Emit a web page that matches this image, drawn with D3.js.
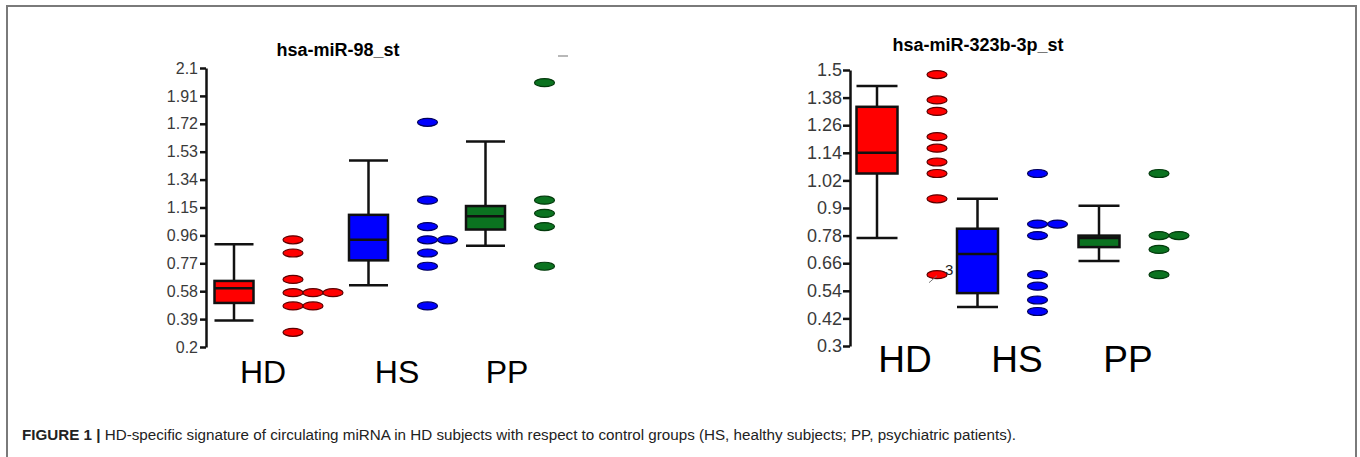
<!DOCTYPE html>
<meta charset="utf-8">
<script src="https://d3js.org/d3.v7.min.js"></script>
<style>
  body { margin: 0; background: #fff; }
  text { font-family: "Liberation Sans", Arial, sans-serif; }
</style>
<div id="my_dataviz"></div>
<script>

// groups
var groups = ["HD", "HS", "PP"];

// hsa-miR-98_st : box stats per group (HD, HS, PP)
var mir98Low = [0.38, 0.62, 0.89];
var mir98Q1 = [0.50, 0.79, 1.00];
var mir98Med = [0.60, 0.93, 1.09];
var mir98Q3 = [0.65, 1.10, 1.16];
var mir98High = [0.90, 1.47, 1.60];
// single subjects
var mir98HD = [0.93, 0.84, 0.66, 0.57, 0.57, 0.57, 0.48, 0.48, 0.30];
var mir98HS = [1.73, 1.20, 1.02, 0.93, 0.93, 0.84, 0.75, 0.48];
var mir98PP = [2.00, 1.20, 1.11, 1.02, 0.75];
var mir98Ticks = [0.2, 0.39, 0.58, 0.77, 0.96, 1.15, 1.34, 1.53, 1.72, 1.91, 2.1];

// hsa-miR-323b-3p_st
var mir323Low = [0.77, 0.47, 0.67];
var mir323Q1 = [1.05, 0.53, 0.73];
var mir323Med = [1.14, 0.70, 0.77];
var mir323Q3 = [1.34, 0.81, 0.78];
var mir323High = [1.43, 0.94, 0.91];
var mir323HD = [1.48, 1.37, 1.32, 1.21, 1.16, 1.10, 1.05, 0.94, 0.61];
var mir323HS = [1.05, 0.83, 0.83, 0.78, 0.61, 0.56, 0.50, 0.45];
var mir323PP = [1.05, 0.78, 0.78, 0.72, 0.61];
var mir323Ticks = [0.3, 0.42, 0.54, 0.66, 0.78, 0.9, 1.02, 1.14, 1.26, 1.38, 1.5];

var caption = "HD-specific signature of circulating miRNA in HD subjects with respect to control groups (HS, healthy subjects; PP, psychiatric patients).";

var fills = ["#ff0000", "#0000ff", "#0b7320"];
var dotStroke = ["#5c0000", "#00005c", "#033a0c"];

var svg = d3.select("#my_dataviz")
  .append("svg")
  .attr("width", 1360)
  .attr("height", 457);

// figure frame
svg.append("path")
  .attr("d", "M7,470V6H1356V470")
  .attr("fill", "none")
  .attr("stroke", "#7a7a7a")
  .attr("stroke-width", 2);

function drawPanel(p) {
  var y = d3.scaleLinear().domain([p.ticks[0], p.ticks[p.ticks.length - 1]]).range(p.yRange);
  var x = d3.scaleOrdinal().domain(groups).range(p.boxX);
  var xl = d3.scaleOrdinal().domain(groups).range(p.labelX);

  var g = svg.append("g");

  // y axis
  var ax = g.append("g")
    .attr("transform", "translate(" + p.axisX + ",0)")
    .call(d3.axisLeft(y).tickValues(p.ticks).tickFormat(function(d) { return d; })
      .tickSize(p.tickLen).tickSizeOuter(0).tickPadding(p.tickPad));
  ax.select(".domain").attr("stroke-width", 2.5).attr("stroke", "#111");
  ax.selectAll(".tick line").attr("stroke-width", 2.5).attr("stroke", "#111");
  ax.selectAll(".tick text")
    .attr("fill", "#3a3a3a")
    .style("font-size", p.tickFont + "px")
    .style("font-family", "'Liberation Sans', Arial, sans-serif");

  // boxes
  groups.forEach(function(k, i) {
    var cx = x(k), hw = p.boxW / 2;
    g.append("line")
      .attr("x1", cx).attr("x2", cx)
      .attr("y1", y(p.high[i])).attr("y2", y(p.low[i]))
      .attr("stroke", "#111").attr("stroke-width", 2.5);
    [p.high[i], p.low[i]].forEach(function(v) {
      g.append("line")
        .attr("x1", cx - hw).attr("x2", cx + hw)
        .attr("y1", y(v)).attr("y2", y(v))
        .attr("stroke", "#111").attr("stroke-width", 2.5);
    });
    g.append("rect")
      .attr("x", cx - hw).attr("width", p.boxW)
      .attr("y", y(p.q3[i])).attr("height", y(p.q1[i]) - y(p.q3[i]))
      .attr("fill", fills[i]).attr("stroke", "#111").attr("stroke-width", 2.5);
    g.append("line")
      .attr("x1", cx - hw).attr("x2", cx + hw)
      .attr("y1", y(p.med[i])).attr("y2", y(p.med[i]))
      .attr("stroke", "#111").attr("stroke-width", 2.5);

    // dots, equal values side by side
    var seen = {};
    var pts = p.points[i].map(function(v) {
      seen[v] = (seen[v] || 0) + 1;
      return { v: v, n: seen[v] - 1 };
    });
    g.selectAll(null)
      .data(pts)
      .enter()
      .append("ellipse")
        .attr("cx", function(d) { return cx + p.dotDx + d.n * 20; })
        .attr("cy", function(d) { return y(d.v); })
        .attr("rx", 10)
        .attr("ry", 4)
        .attr("fill", fills[i])
        .attr("stroke", dotStroke[i])
        .attr("stroke-width", 1.2);

    // group label
    g.append("text")
      .attr("x", xl(k)).attr("y", p.labelY)
      .attr("text-anchor", "middle")
      .style("font-size", p.labelFont + "px")
      .attr("fill", "#000")
      .text(k);
  });

  // title
  g.append("text")
    .attr("x", p.titleX).attr("y", p.titleY)
    .attr("text-anchor", "middle")
    .style("font-size", "18px")
    .style("font-weight", "bold")
    .text(p.title);

  return { g: g, x: x, y: y };
}

var left = drawPanel({
  title: "hsa-miR-98_st", titleX: 338, titleY: 56,
  ticks: mir98Ticks, yRange: [347, 68], axisX: 206, tickLen: 6, tickPad: 2, tickFont: 16,
  boxX: [234, 368.5, 485.5], labelX: [263, 397, 507], boxW: 39, dotDx: 59,
  labelY: 383, labelFont: 32,
  low: mir98Low, q1: mir98Q1, med: mir98Med, q3: mir98Q3, high: mir98High,
  points: [mir98HD, mir98HS, mir98PP]
});

// little leftover dash at the top of the left panel
left.g.append("line")
  .attr("x1", 558).attr("x2", 568).attr("y1", 56).attr("y2", 56)
  .attr("stroke", "#888").attr("stroke-width", 1.2);

var right = drawPanel({
  title: "hsa-miR-323b-3p_st", titleX: 978, titleY: 51,
  ticks: mir323Ticks, yRange: [346, 70], axisX: 850, tickLen: 7, tickPad: 1, tickFont: 18,
  boxX: [877, 977.5, 1099], labelX: [905, 1017, 1128], boxW: 41, dotDx: 60,
  labelY: 372, labelFont: 37,
  low: mir323Low, q1: mir323Q1, med: mir323Med, q3: mir323Q3, high: mir323High,
  points: [mir323HD, mir323HS, mir323PP]
});

// "3" overlap note beside the low HD point
var ny = right.y(0.61);
right.g.append("line")
  .attr("x1", 929).attr("y1", ny + 8).attr("x2", 937).attr("y2", ny + 1)
  .attr("stroke", "#777").attr("stroke-width", 1);
right.g.append("text")
  .attr("x", 945).attr("y", ny)
  .style("font-size", "15px")
  .attr("fill", "#222")
  .text("3");

// caption
var cap = svg.append("text")
  .attr("x", 22).attr("y", 440)
  .style("font-size", "15.2px")
  .attr("fill", "#222");
cap.append("tspan").style("font-weight", "bold").text("FIGURE 1 | ");
cap.append("tspan").text(caption);

</script>
